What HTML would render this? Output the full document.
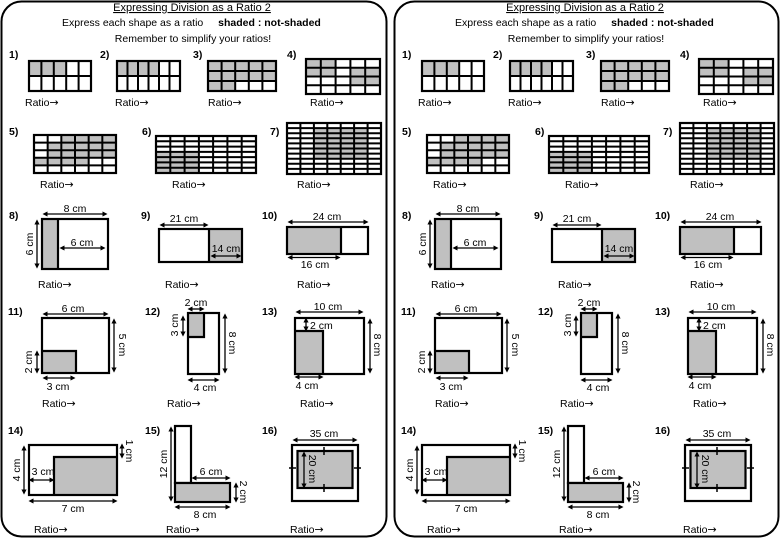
<!DOCTYPE html>
<html><head><meta charset="utf-8"><style>
html,body{margin:0;padding:0;background:#fff}
svg{display:block}
text{font-family:"Liberation Sans",sans-serif;font-size:10.5px;fill:#000}
.b{font-weight:bold}
.ti{font-size:11px}
.g{fill:#c0c0c0}
.o{fill:none;stroke:#000;stroke-width:2.2}
.l{fill:none;stroke:#000;stroke-width:2}
.a{stroke:#000;stroke-width:1.3;marker-start:url(#m);marker-end:url(#m)}
.t{stroke:#000;stroke-width:1.5}
.ar{font-family:"DejaVu Sans",sans-serif;font-size:11px}
</style></head><body>
<svg width="780" height="540" viewBox="0 0 780 540" xmlns="http://www.w3.org/2000/svg">
<defs><marker id="m" viewBox="0 0 10 10" refX="5" refY="5" markerWidth="4" markerHeight="4" orient="auto-start-reverse"><path d="M0,0 L10,5 L0,10 z" fill="#000"/></marker></defs>

<g>
<rect x="1.5" y="1.5" width="385" height="535" rx="20" fill="none" stroke="#000" stroke-width="2"/>
<text x="192" y="11" text-anchor="middle" class="ti" text-decoration="underline">Expressing Division as a Ratio 2</text>
<text x="62" y="26">Express each shape as a ratio <tspan dx="12" class="b">shaded : not-shaded</tspan></text>
<text x="193" y="42" text-anchor="middle">Remember to simplify your ratios!</text>
<text x="9" y="58" class="b">1)</text><text x="100" y="58" class="b">2)</text><text x="193" y="58" class="b">3)</text><text x="287" y="58" class="b">4)</text>
<rect class="g" x="29" y="61" width="37.2" height="15"/><rect class="o" x="29" y="61" width="62" height="30"/><path class="l" d="M41.4 61V91M53.8 61V91M66.2 61V91M78.6 61V91M29 76H91"/>
<rect class="g" x="117" y="61" width="42" height="15"/><rect class="o" x="117" y="61" width="63" height="30"/><path class="l" d="M127.5 61V91M138 61V91M148.5 61V91M159 61V91M169.5 61V91M117 76H180"/>
<rect class="g" x="208" y="61" width="68" height="20"/><rect class="g" x="208" y="81" width="27.2" height="10"/><rect class="o" x="208" y="61" width="68" height="30"/><path class="l" d="M221.6 61V91M235.2 61V91M248.8 61V91M262.4 61V91M208 71H276M208 81H276"/>
<rect class="g" x="306" y="59" width="29.6" height="17.5"/><rect class="g" x="350.4" y="67.75" width="29.6" height="17.5"/><rect class="o" x="306" y="59" width="74" height="35"/><path class="l" d="M320.8 59V94M335.6 59V94M350.4 59V94M365.2 59V94M306 67.75H380M306 76.5H380M306 85.25H380"/>
<text x="25" y="106">Ratio<tspan class="ar">→</tspan></text><text x="115" y="106">Ratio<tspan class="ar">→</tspan></text><text x="208" y="106">Ratio<tspan class="ar">→</tspan></text><text x="310" y="106">Ratio<tspan class="ar">→</tspan></text>

<text x="9" y="135" class="b">5)</text><text x="142" y="135" class="b">6)</text><text x="270" y="135" class="b">7)</text>
<rect class="g" x="61.33" y="135" width="54.67" height="7.6"/><rect class="g" x="47.67" y="142.6" width="68.33" height="15.2"/><rect class="g" x="34" y="157.8" width="54.67" height="7.6"/>
<rect class="o" x="34" y="135" width="82" height="38"/><path class="l" d="M47.67 135V173M61.33 135V173M75 135V173M88.67 135V173M102.33 135V173M34 142.6H116M34 150.2H116M34 157.8H116M34 165.4H116"/>
<rect class="g" x="156" y="151.9" width="42.9" height="21.1"/><rect class="o" x="156" y="136" width="100" height="37"/><path class="l" d="M170.3 136V173M184.6 136V173M198.9 136V173M213.1 136V173M227.4 136V173M241.7 136V173M156 141.3H256M156 146.6H256M156 151.9H256M156 157.1H256M156 162.4H256M156 167.7H256"/>
<rect class="g" x="313.9" y="128.1" width="53.7" height="30.6"/><rect class="o" x="287" y="123" width="94" height="51"/><path class="l" d="M300.4 123V174M313.9 123V174M327.3 123V174M340.7 123V174M354.1 123V174M367.6 123V174M287 128.1H381M287 133.2H381M287 138.3H381M287 143.4H381M287 148.5H381M287 153.6H381M287 158.7H381M287 163.8H381M287 168.9H381"/>
<text x="40" y="188">Ratio<tspan class="ar">→</tspan></text><text x="172" y="188">Ratio<tspan class="ar">→</tspan></text><text x="297" y="188">Ratio<tspan class="ar">→</tspan></text>

<text x="9" y="219" class="b">8)</text><text x="141" y="219" class="b">9)</text><text x="262" y="219" class="b">10)</text>
<rect class="g" x="42" y="219" width="16" height="50"/><rect class="o" x="42" y="219" width="66" height="50"/><line class="o" x1="58" y1="219" x2="58" y2="269"/>
<line class="a" x1="45" y1="214" x2="105" y2="214"/><text x="75" y="212" text-anchor="middle">8 cm</text>
<line class="a" x1="37" y1="222" x2="37" y2="266"/><text transform="translate(33,244) rotate(-90)" text-anchor="middle">6 cm</text>
<line class="a" x1="62" y1="248" x2="103" y2="248"/><text x="82" y="246" text-anchor="middle">6 cm</text>
<rect class="g" x="209" y="229" width="33" height="33"/><rect class="o" x="159" y="229" width="83" height="33"/><line class="o" x1="209" y1="229" x2="209" y2="262"/>
<line class="a" x1="162" y1="225" x2="206" y2="225"/><text x="184" y="222" text-anchor="middle">21 cm</text>
<line class="a" x1="213" y1="256" x2="239" y2="256"/><text x="226" y="252" text-anchor="middle">14 cm</text>
<rect class="g" x="287" y="227" width="54" height="27"/><rect class="o" x="287" y="227" width="81" height="27"/><line class="o" x1="341" y1="227" x2="341" y2="254"/>
<line class="a" x1="290" y1="222" x2="366" y2="222"/><text x="327" y="220" text-anchor="middle">24 cm</text>
<line class="a" x1="290" y1="257.5" x2="338" y2="257.5"/><text x="315" y="268" text-anchor="middle">16 cm</text>
<text x="38" y="288">Ratio<tspan class="ar">→</tspan></text><text x="165" y="288">Ratio<tspan class="ar">→</tspan></text><text x="297" y="288">Ratio<tspan class="ar">→</tspan></text>

<text x="8" y="315" class="b">11)</text><text x="145" y="315" class="b">12)</text><text x="262" y="315" class="b">13)</text>
<rect class="g" x="42" y="351" width="34" height="22"/><rect class="o" x="42" y="318" width="67" height="55"/><path class="o" d="M42 351H76V373"/>
<line class="a" x1="45" y1="314" x2="106" y2="314"/><text x="73" y="312" text-anchor="middle">6 cm</text>
<line class="a" x1="114" y1="321" x2="114" y2="370"/><text transform="translate(119,345) rotate(90)" text-anchor="middle">5 cm</text>
<line class="a" x1="37" y1="353" x2="37" y2="371"/><text transform="translate(32,362) rotate(-90)" text-anchor="middle">2 cm</text>
<line class="a" x1="45" y1="378" x2="73" y2="378"/><text x="58" y="390" text-anchor="middle">3 cm</text>
<rect class="g" x="188" y="313" width="16" height="24"/><rect class="o" x="188" y="313" width="31" height="61"/><path class="o" d="M188 337H204V313"/>
<line class="a" x1="190" y1="309" x2="202" y2="309"/><text x="196" y="306" text-anchor="middle">2 cm</text>
<line class="a" x1="183" y1="318" x2="183" y2="334"/><text transform="translate(178,325) rotate(-90)" text-anchor="middle">3 cm</text>
<line class="a" x1="225" y1="316" x2="225" y2="371"/><text transform="translate(229,343) rotate(90)" text-anchor="middle">8 cm</text>
<line class="a" x1="190" y1="380" x2="217" y2="380"/><text x="205" y="391" text-anchor="middle">4 cm</text>
<rect class="g" x="295" y="331" width="28" height="43"/><rect class="o" x="295" y="318" width="69" height="56"/><path class="o" d="M295 331H323V374"/>
<line class="a" x1="298" y1="312" x2="361" y2="312"/><text x="328" y="310" text-anchor="middle">10 cm</text>
<line class="a" x1="306" y1="320" x2="306" y2="329"/><text x="310" y="329">2 cm</text>
<line class="a" x1="370" y1="321" x2="370" y2="371"/><text transform="translate(374,345) rotate(90)" text-anchor="middle">8 cm</text>
<line class="a" x1="297" y1="377" x2="321" y2="377"/><text x="307" y="389" text-anchor="middle">4 cm</text>
<text x="42" y="407">Ratio<tspan class="ar">→</tspan></text><text x="167" y="407">Ratio<tspan class="ar">→</tspan></text><text x="300" y="407">Ratio<tspan class="ar">→</tspan></text>

<text x="8" y="434" class="b">14)</text><text x="145" y="434" class="b">15)</text><text x="262" y="434" class="b">16)</text>
<rect class="g" x="54" y="457" width="63" height="38"/><rect class="o" x="29" y="445" width="88" height="50"/><path class="o" d="M54 495V457H117"/>
<line class="a" x1="24" y1="448" x2="24" y2="492"/><text transform="translate(20,470) rotate(-90)" text-anchor="middle">4 cm</text>
<line class="a" x1="122" y1="446" x2="122" y2="456"/><text transform="translate(126,451) rotate(90)" text-anchor="middle">1 cm</text>
<line class="a" x1="31" y1="480" x2="52" y2="480"/><text x="43" y="475" text-anchor="middle">3 cm</text>
<line class="a" x1="31" y1="501" x2="115" y2="501"/><text x="73" y="512" text-anchor="middle">7 cm</text>
<rect class="o" x="175" y="426" width="16" height="57"/><rect class="g" x="175" y="483" width="55" height="19"/><rect class="o" x="175" y="483" width="55" height="19"/>
<line class="a" x1="171" y1="429" x2="171" y2="499"/><text transform="translate(167,464) rotate(-90)" text-anchor="middle">12 cm</text>
<line class="a" x1="194" y1="478" x2="228" y2="478"/><text x="211" y="475" text-anchor="middle">6 cm</text>
<line class="a" x1="236" y1="485" x2="236" y2="500"/><text transform="translate(240,492) rotate(90)" text-anchor="middle">2 cm</text>
<line class="a" x1="177" y1="507" x2="228" y2="507"/><text x="205" y="518" text-anchor="middle">8 cm</text>
<rect class="o" x="292" y="445" width="66" height="56"/><rect class="g" x="297.5" y="451" width="55" height="37"/><rect class="o" x="297.5" y="451" width="55" height="37"/>
<line class="a" x1="295" y1="440" x2="355" y2="440"/><text x="324" y="437" text-anchor="middle">35 cm</text>
<line class="a" x1="304" y1="454" x2="304" y2="486"/><text transform="translate(309,469) rotate(90)" text-anchor="middle">20 cm</text>
<path class="t" d="M324 447V455M324 484V492M289 468H296M354 468H361"/>
<text x="34" y="533">Ratio<tspan class="ar">→</tspan></text><text x="166" y="533">Ratio<tspan class="ar">→</tspan></text><text x="290" y="533">Ratio<tspan class="ar">→</tspan></text>
</g>

<g transform="translate(393,0)">
<rect x="1.5" y="1.5" width="384" height="535" rx="20" fill="none" stroke="#000" stroke-width="2"/>
<text x="192" y="11" text-anchor="middle" class="ti" text-decoration="underline">Expressing Division as a Ratio 2</text>
<text x="62" y="26">Express each shape as a ratio <tspan dx="12" class="b">shaded : not-shaded</tspan></text>
<text x="193" y="42" text-anchor="middle">Remember to simplify your ratios!</text>
<text x="9" y="58" class="b">1)</text><text x="100" y="58" class="b">2)</text><text x="193" y="58" class="b">3)</text><text x="287" y="58" class="b">4)</text>
<rect class="g" x="29" y="61" width="37.2" height="15"/><rect class="o" x="29" y="61" width="62" height="30"/><path class="l" d="M41.4 61V91M53.8 61V91M66.2 61V91M78.6 61V91M29 76H91"/>
<rect class="g" x="117" y="61" width="42" height="15"/><rect class="o" x="117" y="61" width="63" height="30"/><path class="l" d="M127.5 61V91M138 61V91M148.5 61V91M159 61V91M169.5 61V91M117 76H180"/>
<rect class="g" x="208" y="61" width="68" height="20"/><rect class="g" x="208" y="81" width="27.2" height="10"/><rect class="o" x="208" y="61" width="68" height="30"/><path class="l" d="M221.6 61V91M235.2 61V91M248.8 61V91M262.4 61V91M208 71H276M208 81H276"/>
<rect class="g" x="306" y="59" width="29.6" height="17.5"/><rect class="g" x="350.4" y="67.75" width="29.6" height="17.5"/><rect class="o" x="306" y="59" width="74" height="35"/><path class="l" d="M320.8 59V94M335.6 59V94M350.4 59V94M365.2 59V94M306 67.75H380M306 76.5H380M306 85.25H380"/>
<text x="25" y="106">Ratio<tspan class="ar">→</tspan></text><text x="115" y="106">Ratio<tspan class="ar">→</tspan></text><text x="208" y="106">Ratio<tspan class="ar">→</tspan></text><text x="310" y="106">Ratio<tspan class="ar">→</tspan></text>

<text x="9" y="135" class="b">5)</text><text x="142" y="135" class="b">6)</text><text x="270" y="135" class="b">7)</text>
<rect class="g" x="61.33" y="135" width="54.67" height="7.6"/><rect class="g" x="47.67" y="142.6" width="68.33" height="15.2"/><rect class="g" x="34" y="157.8" width="54.67" height="7.6"/>
<rect class="o" x="34" y="135" width="82" height="38"/><path class="l" d="M47.67 135V173M61.33 135V173M75 135V173M88.67 135V173M102.33 135V173M34 142.6H116M34 150.2H116M34 157.8H116M34 165.4H116"/>
<rect class="g" x="156" y="151.9" width="42.9" height="21.1"/><rect class="o" x="156" y="136" width="100" height="37"/><path class="l" d="M170.3 136V173M184.6 136V173M198.9 136V173M213.1 136V173M227.4 136V173M241.7 136V173M156 141.3H256M156 146.6H256M156 151.9H256M156 157.1H256M156 162.4H256M156 167.7H256"/>
<rect class="g" x="313.9" y="128.1" width="53.7" height="30.6"/><rect class="o" x="287" y="123" width="94" height="51"/><path class="l" d="M300.4 123V174M313.9 123V174M327.3 123V174M340.7 123V174M354.1 123V174M367.6 123V174M287 128.1H381M287 133.2H381M287 138.3H381M287 143.4H381M287 148.5H381M287 153.6H381M287 158.7H381M287 163.8H381M287 168.9H381"/>
<text x="40" y="188">Ratio<tspan class="ar">→</tspan></text><text x="172" y="188">Ratio<tspan class="ar">→</tspan></text><text x="297" y="188">Ratio<tspan class="ar">→</tspan></text>

<text x="9" y="219" class="b">8)</text><text x="141" y="219" class="b">9)</text><text x="262" y="219" class="b">10)</text>
<rect class="g" x="42" y="219" width="16" height="50"/><rect class="o" x="42" y="219" width="66" height="50"/><line class="o" x1="58" y1="219" x2="58" y2="269"/>
<line class="a" x1="45" y1="214" x2="105" y2="214"/><text x="75" y="212" text-anchor="middle">8 cm</text>
<line class="a" x1="37" y1="222" x2="37" y2="266"/><text transform="translate(33,244) rotate(-90)" text-anchor="middle">6 cm</text>
<line class="a" x1="62" y1="248" x2="103" y2="248"/><text x="82" y="246" text-anchor="middle">6 cm</text>
<rect class="g" x="209" y="229" width="33" height="33"/><rect class="o" x="159" y="229" width="83" height="33"/><line class="o" x1="209" y1="229" x2="209" y2="262"/>
<line class="a" x1="162" y1="225" x2="206" y2="225"/><text x="184" y="222" text-anchor="middle">21 cm</text>
<line class="a" x1="213" y1="256" x2="239" y2="256"/><text x="226" y="252" text-anchor="middle">14 cm</text>
<rect class="g" x="287" y="227" width="54" height="27"/><rect class="o" x="287" y="227" width="81" height="27"/><line class="o" x1="341" y1="227" x2="341" y2="254"/>
<line class="a" x1="290" y1="222" x2="366" y2="222"/><text x="327" y="220" text-anchor="middle">24 cm</text>
<line class="a" x1="290" y1="257.5" x2="338" y2="257.5"/><text x="315" y="268" text-anchor="middle">16 cm</text>
<text x="38" y="288">Ratio<tspan class="ar">→</tspan></text><text x="165" y="288">Ratio<tspan class="ar">→</tspan></text><text x="297" y="288">Ratio<tspan class="ar">→</tspan></text>

<text x="8" y="315" class="b">11)</text><text x="145" y="315" class="b">12)</text><text x="262" y="315" class="b">13)</text>
<rect class="g" x="42" y="351" width="34" height="22"/><rect class="o" x="42" y="318" width="67" height="55"/><path class="o" d="M42 351H76V373"/>
<line class="a" x1="45" y1="314" x2="106" y2="314"/><text x="73" y="312" text-anchor="middle">6 cm</text>
<line class="a" x1="114" y1="321" x2="114" y2="370"/><text transform="translate(119,345) rotate(90)" text-anchor="middle">5 cm</text>
<line class="a" x1="37" y1="353" x2="37" y2="371"/><text transform="translate(32,362) rotate(-90)" text-anchor="middle">2 cm</text>
<line class="a" x1="45" y1="378" x2="73" y2="378"/><text x="58" y="390" text-anchor="middle">3 cm</text>
<rect class="g" x="188" y="313" width="16" height="24"/><rect class="o" x="188" y="313" width="31" height="61"/><path class="o" d="M188 337H204V313"/>
<line class="a" x1="190" y1="309" x2="202" y2="309"/><text x="196" y="306" text-anchor="middle">2 cm</text>
<line class="a" x1="183" y1="318" x2="183" y2="334"/><text transform="translate(178,325) rotate(-90)" text-anchor="middle">3 cm</text>
<line class="a" x1="225" y1="316" x2="225" y2="371"/><text transform="translate(229,343) rotate(90)" text-anchor="middle">8 cm</text>
<line class="a" x1="190" y1="380" x2="217" y2="380"/><text x="205" y="391" text-anchor="middle">4 cm</text>
<rect class="g" x="295" y="331" width="28" height="43"/><rect class="o" x="295" y="318" width="69" height="56"/><path class="o" d="M295 331H323V374"/>
<line class="a" x1="298" y1="312" x2="361" y2="312"/><text x="328" y="310" text-anchor="middle">10 cm</text>
<line class="a" x1="306" y1="320" x2="306" y2="329"/><text x="310" y="329">2 cm</text>
<line class="a" x1="370" y1="321" x2="370" y2="371"/><text transform="translate(374,345) rotate(90)" text-anchor="middle">8 cm</text>
<line class="a" x1="297" y1="377" x2="321" y2="377"/><text x="307" y="389" text-anchor="middle">4 cm</text>
<text x="42" y="407">Ratio<tspan class="ar">→</tspan></text><text x="167" y="407">Ratio<tspan class="ar">→</tspan></text><text x="300" y="407">Ratio<tspan class="ar">→</tspan></text>

<text x="8" y="434" class="b">14)</text><text x="145" y="434" class="b">15)</text><text x="262" y="434" class="b">16)</text>
<rect class="g" x="54" y="457" width="63" height="38"/><rect class="o" x="29" y="445" width="88" height="50"/><path class="o" d="M54 495V457H117"/>
<line class="a" x1="24" y1="448" x2="24" y2="492"/><text transform="translate(20,470) rotate(-90)" text-anchor="middle">4 cm</text>
<line class="a" x1="122" y1="446" x2="122" y2="456"/><text transform="translate(126,451) rotate(90)" text-anchor="middle">1 cm</text>
<line class="a" x1="31" y1="480" x2="52" y2="480"/><text x="43" y="475" text-anchor="middle">3 cm</text>
<line class="a" x1="31" y1="501" x2="115" y2="501"/><text x="73" y="512" text-anchor="middle">7 cm</text>
<rect class="o" x="175" y="426" width="16" height="57"/><rect class="g" x="175" y="483" width="55" height="19"/><rect class="o" x="175" y="483" width="55" height="19"/>
<line class="a" x1="171" y1="429" x2="171" y2="499"/><text transform="translate(167,464) rotate(-90)" text-anchor="middle">12 cm</text>
<line class="a" x1="194" y1="478" x2="228" y2="478"/><text x="211" y="475" text-anchor="middle">6 cm</text>
<line class="a" x1="236" y1="485" x2="236" y2="500"/><text transform="translate(240,492) rotate(90)" text-anchor="middle">2 cm</text>
<line class="a" x1="177" y1="507" x2="228" y2="507"/><text x="205" y="518" text-anchor="middle">8 cm</text>
<rect class="o" x="292" y="445" width="66" height="56"/><rect class="g" x="297.5" y="451" width="55" height="37"/><rect class="o" x="297.5" y="451" width="55" height="37"/>
<line class="a" x1="295" y1="440" x2="355" y2="440"/><text x="324" y="437" text-anchor="middle">35 cm</text>
<line class="a" x1="304" y1="454" x2="304" y2="486"/><text transform="translate(309,469) rotate(90)" text-anchor="middle">20 cm</text>
<path class="t" d="M324 447V455M324 484V492M289 468H296M354 468H361"/>
<text x="34" y="533">Ratio<tspan class="ar">→</tspan></text><text x="166" y="533">Ratio<tspan class="ar">→</tspan></text><text x="290" y="533">Ratio<tspan class="ar">→</tspan></text>
</g>
</svg>
</body></html>
